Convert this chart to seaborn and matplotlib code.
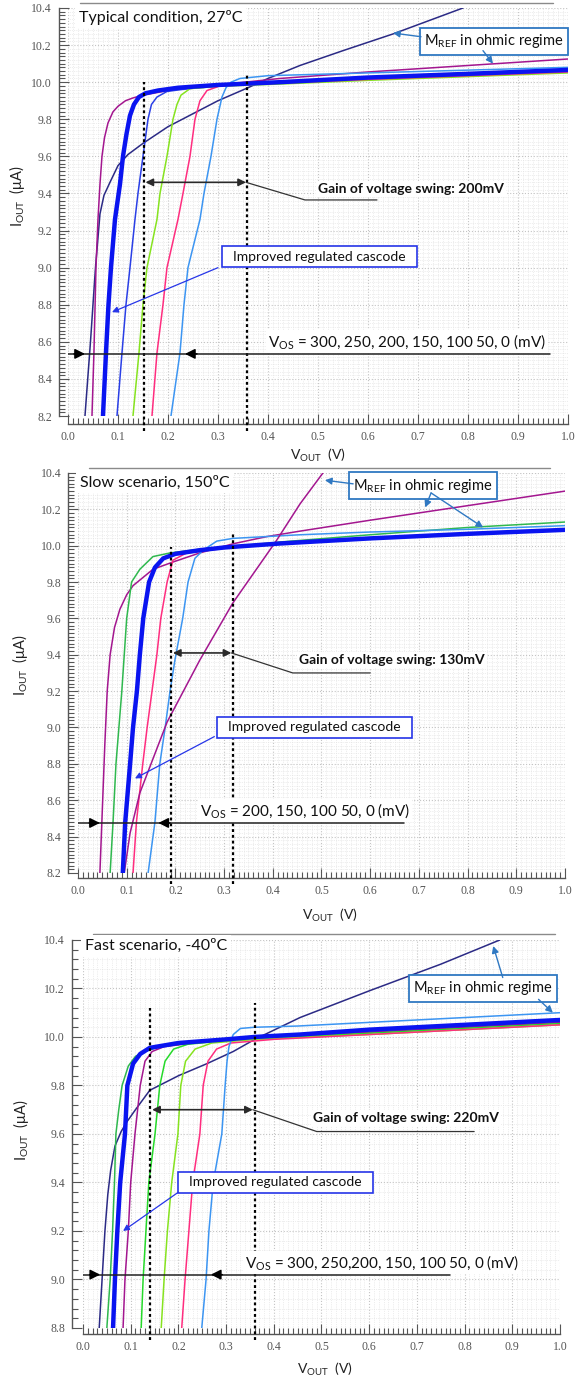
import matplotlib
matplotlib.use("Agg")
import matplotlib.pyplot as plt
import seaborn as sns
from matplotlib.ticker import MultipleLocator, FormatStrFormatter

# -------------------------------------------------------------
#  Colores de las curvas y cajas
# -------------------------------------------------------------
NAVY     = "#2b2a85"
PURPLE   = "#a3168f"
BLUE_T   = "#0a14f0"
BLUE     = "#2a3fe6"
LGREEN   = "#86e31f"
GREEN    = "#2fb84e"
GREEN2   = "#25d92a"
PINK     = "#ff2d7f"
LBLUE    = "#3c95f2"
BOX_BLUE = "#2f78c2"
CAS_BLUE = "#2635e8"

# -------------------------------------------------------------
#  Datos — Typical condition, 27ºC
# -------------------------------------------------------------
typ_navy_x   = [0.034, 0.045, 0.055, 0.064, 0.072, 0.084, 0.1, 0.12, 0.15, 0.2, 0.25, 0.3, 0.36, 0.4, 0.464, 0.55, 0.65, 0.79]
typ_navy_y   = [8.2, 8.6, 9.0, 9.29, 9.39, 9.46, 9.55, 9.61, 9.67, 9.76, 9.83, 9.9, 9.97, 10.02, 10.09, 10.17, 10.26, 10.4]
typ_purple_x = [0.048, 0.052, 0.056, 0.06, 0.064, 0.068, 0.073, 0.08, 0.09, 0.1, 0.115, 0.13, 0.15, 0.2, 0.3, 0.424, 0.6, 0.8, 1.0]
typ_purple_y = [8.2, 8.55, 9.0, 9.26, 9.45, 9.6, 9.7, 9.78, 9.84, 9.87, 9.9, 9.915, 9.93, 9.955, 9.985, 10.02, 10.055, 10.09, 10.125]
typ_thick_x  = [0.07, 0.076, 0.081, 0.086, 0.094, 0.104, 0.11, 0.117, 0.124, 0.132, 0.142, 0.155, 0.18, 0.22, 0.3, 0.424, 0.6, 0.8, 1.0]
typ_thick_y  = [8.2, 8.54, 8.8, 9.0, 9.26, 9.45, 9.6, 9.72, 9.82, 9.88, 9.92, 9.94, 9.955, 9.97, 9.985, 10.0, 10.025, 10.045, 10.066]
typ_blue_x   = [0.098, 0.108, 0.116, 0.124, 0.134, 0.14, 0.15, 0.16, 0.167, 0.178, 0.198, 0.24, 0.3, 0.424, 0.6, 0.8, 1.0]
typ_blue_y   = [8.2, 8.54, 8.8, 9.0, 9.26, 9.4, 9.6, 9.8, 9.88, 9.92, 9.95, 9.965, 9.978, 9.995, 10.02, 10.04, 10.06]
typ_lgreen_x = [0.13, 0.142, 0.15, 0.158, 0.178, 0.184, 0.198, 0.21, 0.218, 0.226, 0.244, 0.3, 0.424, 0.6, 0.8, 1.0]
typ_lgreen_y = [8.2, 8.54, 8.8, 9.0, 9.26, 9.4, 9.6, 9.8, 9.88, 9.93, 9.965, 9.978, 9.99, 10.01, 10.03, 10.05]
typ_pink_x   = [0.168, 0.178, 0.19, 0.198, 0.22, 0.23, 0.244, 0.254, 0.264, 0.278, 0.304, 0.424, 0.6, 0.8, 1.0]
typ_pink_y   = [8.2, 8.54, 8.8, 9.0, 9.26, 9.4, 9.6, 9.8, 9.9, 9.955, 9.98, 9.995, 10.015, 10.035, 10.055]
typ_lblue_x  = [0.206, 0.224, 0.232, 0.24, 0.264, 0.272, 0.286, 0.298, 0.308, 0.316, 0.326, 0.344, 0.4, 0.6, 0.8, 1.0]
typ_lblue_y  = [8.2, 8.54, 8.8, 9.0, 9.26, 9.4, 9.6, 9.8, 9.92, 9.97, 10.0, 10.02, 10.035, 10.05, 10.065, 10.08]

# -------------------------------------------------------------
#  Datos — Slow scenario, 150ºC
# -------------------------------------------------------------
slow_purple_x = [0.045, 0.049, 0.055, 0.06, 0.066, 0.075, 0.086, 0.1, 0.113, 0.154, 0.195, 0.25, 0.318, 0.388, 0.456, 0.6, 0.8, 1.0]
slow_purple_y = [8.2, 8.48, 8.9, 9.2, 9.4, 9.55, 9.65, 9.73, 9.78, 9.87, 9.91, 9.96, 10.01, 10.05, 10.08, 10.14, 10.22, 10.3]
slow_green_x  = [0.066, 0.072, 0.078, 0.09, 0.095, 0.1, 0.11, 0.127, 0.154, 0.189, 0.25, 0.318, 0.415, 0.6, 0.8, 1.0]
slow_green_y  = [8.2, 8.48, 8.8, 9.2, 9.4, 9.6, 9.8, 9.87, 9.94, 9.96, 9.98, 9.995, 10.02, 10.06, 10.1, 10.13]
slow_thick_x  = [0.092, 0.097, 0.107, 0.113, 0.121, 0.127, 0.134, 0.146, 0.158, 0.175, 0.2, 0.25, 0.3, 0.415, 0.6, 0.8, 1.0]
slow_thick_y  = [8.2, 8.48, 8.8, 9.0, 9.2, 9.4, 9.6, 9.8, 9.88, 9.93, 9.955, 9.975, 9.99, 10.012, 10.04, 10.065, 10.087]
slow_pink_x   = [0.113, 0.12, 0.133, 0.142, 0.152, 0.162, 0.17, 0.183, 0.195, 0.223, 0.3, 0.415, 0.6, 0.8, 1.0]
slow_pink_y   = [8.2, 8.48, 8.8, 9.0, 9.2, 9.4, 9.6, 9.8, 9.92, 9.96, 9.985, 10.01, 10.04, 10.065, 10.09]
slow_lblue_x  = [0.144, 0.158, 0.168, 0.179, 0.189, 0.199, 0.215, 0.226, 0.24, 0.257, 0.285, 0.318, 0.456, 0.6, 0.8, 1.0]
slow_lblue_y  = [8.2, 8.48, 8.8, 9.0, 9.2, 9.37, 9.6, 9.8, 9.93, 9.975, 10.025, 10.04, 10.06, 10.075, 10.09, 10.11]
slow_mref_x   = [0.095, 0.107, 0.127, 0.183, 0.25, 0.318, 0.408, 0.456, 0.503]
slow_mref_y   = [8.2, 8.42, 8.64, 9.03, 9.37, 9.685, 10.03, 10.23, 10.4]

# -------------------------------------------------------------
#  Datos — Fast scenario, -40ºC
# -------------------------------------------------------------
fast_navy_x   = [0.034, 0.04, 0.046, 0.052, 0.058, 0.067, 0.08, 0.092, 0.11, 0.14, 0.2, 0.26, 0.315, 0.36, 0.455, 0.6, 0.75, 0.874]
fast_navy_y   = [8.8, 9.0, 9.2, 9.35, 9.45, 9.55, 9.61, 9.65, 9.7, 9.78, 9.84, 9.89, 9.94, 9.99, 10.08, 10.19, 10.3, 10.4]
fast_green_x  = [0.05, 0.057, 0.062, 0.066, 0.069, 0.075, 0.082, 0.095, 0.11, 0.13, 0.16, 0.25, 0.36, 0.6, 0.8, 1.0]
fast_green_y  = [8.8, 9.0, 9.2, 9.4, 9.6, 9.7, 9.8, 9.88, 9.92, 9.94, 9.96, 9.98, 9.995, 10.02, 10.04, 10.06]
fast_thick_x  = [0.063, 0.067, 0.072, 0.078, 0.088, 0.093, 0.105, 0.12, 0.14, 0.2, 0.3, 0.36, 0.455, 0.6, 0.8, 1.0]
fast_thick_y  = [8.8, 9.0, 9.2, 9.4, 9.6, 9.8, 9.89, 9.93, 9.955, 9.975, 9.99, 10.0, 10.01, 10.03, 10.05, 10.07]
fast_purple_x = [0.084, 0.088, 0.095, 0.1, 0.109, 0.12, 0.13, 0.145, 0.17, 0.25, 0.36, 0.6, 0.8, 1.0]
fast_purple_y = [8.8, 9.0, 9.2, 9.4, 9.6, 9.8, 9.9, 9.94, 9.96, 9.98, 9.995, 10.02, 10.04, 10.06]
fast_green2_x = [0.122, 0.126, 0.132, 0.138, 0.151, 0.161, 0.172, 0.19, 0.22, 0.3, 0.6, 1.0]
fast_green2_y = [8.8, 9.0, 9.2, 9.4, 9.6, 9.8, 9.9, 9.95, 9.97, 9.985, 10.015, 10.055]
fast_lgreen_x = [0.164, 0.17, 0.177, 0.186, 0.199, 0.205, 0.215, 0.235, 0.27, 0.36, 0.6, 1.0]
fast_lgreen_y = [8.8, 9.0, 9.2, 9.4, 9.6, 9.8, 9.9, 9.95, 9.975, 9.99, 10.01, 10.05]
fast_pink_x   = [0.207, 0.214, 0.222, 0.23, 0.245, 0.252, 0.262, 0.28, 0.31, 0.4, 0.6, 1.0]
fast_pink_y   = [8.8, 9.0, 9.2, 9.4, 9.6, 9.8, 9.9, 9.95, 9.975, 9.99, 10.01, 10.05]
fast_lblue_x  = [0.249, 0.258, 0.264, 0.273, 0.291, 0.298, 0.302, 0.306, 0.315, 0.33, 0.36, 0.45, 0.6, 0.8, 1.0]
fast_lblue_y  = [8.8, 9.0, 9.2, 9.4, 9.6, 9.8, 9.9, 9.96, 10.01, 10.035, 10.04, 10.045, 10.06, 10.08, 10.1]

# Textos
X_LABEL   = r"V$_{\mathrm{OUT}}$  (V)"
Y_LABEL   = r"I$_{\mathrm{OUT}}$  ($\mathrm{\mu}$A)"
MREF_TXT  = r"M$_{\mathrm{REF}}$ in ohmic regime"
CAS_TXT   = "  Improved regulated cascode  "

# -------------------------------------------------------------
#  Estilo general
# -------------------------------------------------------------
sns.set_theme(style="white")
plt.rcParams["font.family"] = ["Liberation Serif", "DejaVu Serif"]
plt.rcParams["mathtext.fontset"] = "custom"
plt.rcParams["mathtext.rm"] = "Lato"
plt.rcParams["mathtext.it"] = "Lato:italic"
plt.rcParams["mathtext.bf"] = "Lato:bold"

SANS = ["Lato", "DejaVu Sans"]

fig = plt.figure(figsize=(5.82, 13.78), dpi=100)
ax1 = fig.add_axes([0.1168, 0.6981, 0.8591, 0.2961])
ax2 = fig.add_axes([0.1340, 0.3665, 0.8368, 0.2903])
ax3 = fig.add_axes([0.1426, 0.0363, 0.8196, 0.2816])


def style_axis(ax, ylim, yminor, left_off, bottom_off, ylab_xy, xlab_xy, top_line):
    ax.set_xlim(0, 1)
    ax.set_ylim(*ylim)
    ax.xaxis.set_major_locator(MultipleLocator(0.1))
    ax.xaxis.set_minor_locator(MultipleLocator(0.01))
    ax.yaxis.set_major_locator(MultipleLocator(0.2))
    ax.yaxis.set_minor_locator(MultipleLocator(yminor))
    ax.xaxis.set_major_formatter(FormatStrFormatter("%.1f"))
    ax.yaxis.set_major_formatter(FormatStrFormatter("%.1f"))
    ax.set_axisbelow(True)
    ax.grid(which="major", color="#c4c4c4", ls=":", lw=0.8)
    ax.grid(which="minor", color="#dedede", ls=":", lw=0.5)
    for s in ["top", "right"]:
        ax.spines[s].set_visible(False)
    ax.spines["left"].set_position(("outward", left_off))
    ax.spines["bottom"].set_position(("outward", bottom_off))
    for s in ["left", "bottom"]:
        ax.spines[s].set_color("#555555")
        ax.spines[s].set_linewidth(1.0)
    ax.tick_params(which="both", direction="in", colors="#555555", labelsize=8.5,
                   width=0.8, left=True, bottom=True, top=False, right=False)
    ax.tick_params(which="major", length=7, pad=5)
    ax.tick_params(which="minor", length=4)
    ax.set_xlabel(X_LABEL, fontsize=10, family=SANS, color="#222222")
    ax.set_ylabel(Y_LABEL, fontsize=10.5, family=SANS, color="#222222")
    ax.xaxis.set_label_coords(*xlab_xy)
    ax.yaxis.set_label_coords(*ylab_xy)
    ax.plot(top_line[:2], [top_line[2], top_line[2]], transform=ax.transAxes,
            color="#8a8a8a", lw=1.0, clip_on=False)


def draw_curves(ax, curves):
    for xs, ys, color, lw in curves:
        sns.lineplot(x=xs, y=ys, color=color, linewidth=lw, ax=ax,
                     estimator=None, sort=False, legend=False, zorder=3)


def add_title(ax, x, y, txt):
    ax.text(x, y, txt, fontsize=11.5, family=SANS, va="center", ha="left", color="#111111",
            zorder=6, bbox=dict(fc="white", ec="none", pad=2.5))


def add_vlines(ax, xs, y0, tops):
    for x, y1 in zip(xs, tops):
        ax.plot([x, x], [y0, y1], color="black", lw=1.6, ls=(0, (1.3, 1.3)),
                clip_on=False, zorder=4)


def add_swing(ax, x0, x1, y, xe, ye, xend, label, tx, ty):
    ax.annotate("", xy=(x0, y), xytext=(x1, y),
                arrowprops=dict(arrowstyle="<|-|>", color="#2a2a2a", lw=1.2,
                                mutation_scale=11, shrinkA=0, shrinkB=0), zorder=7)
    ax.plot([x1, xe, xend], [y, ye, ye], color="#333333", lw=0.9, zorder=7)
    ax.text(tx, ty, label, fontsize=10, fontweight="bold", family=SANS, ha="center",
            va="center", color="#111111", zorder=6, bbox=dict(fc="white", ec="none", pad=1.5))


def add_vos(ax, y, xend, tip_l, tip_r, label, tx, ty):
    ax.plot([0.0, xend], [y, y], color="#222222", lw=1.1, zorder=7)
    ax.annotate("", xy=(tip_l, y), xytext=(tip_l - 0.022, y),
                arrowprops=dict(arrowstyle="-|>", color="black", lw=1.1,
                                mutation_scale=15, shrinkA=0, shrinkB=0), zorder=7)
    ax.annotate("", xy=(tip_r, y), xytext=(tip_r + 0.024, y),
                arrowprops=dict(arrowstyle="-|>", color="black", lw=1.1,
                                mutation_scale=15, shrinkA=0, shrinkB=0), zorder=7)
    ax.text(tx, ty, label, fontsize=11, family=SANS, ha="left", va="center",
            color="#111111", zorder=6, bbox=dict(fc="white", ec="none", pad=1.5))


def add_cascode(ax, cx, cy, start, target):
    ax.text(cx, cy, CAS_TXT, fontsize=10, family=SANS, ha="center", va="center",
            color="#111111", zorder=8,
            bbox=dict(boxstyle="square,pad=0.3", fc="white", ec=CAS_BLUE, lw=1.2))
    ax.annotate("", xy=target, xytext=start,
                arrowprops=dict(arrowstyle="-|>", color=CAS_BLUE, lw=0.9,
                                mutation_scale=9, shrinkA=0, shrinkB=0), zorder=8)


def add_mref(ax, cx, cy, arrows):
    ax.text(cx, cy, MREF_TXT, fontsize=10.5, family=SANS, ha="center", va="center",
            color="#111111", zorder=8,
            bbox=dict(boxstyle="square,pad=0.3", fc="white", ec=BOX_BLUE, lw=1.3))
    for start, target in arrows:
        ax.annotate("", xy=target, xytext=start,
                    arrowprops=dict(arrowstyle="-|>", color=BOX_BLUE, lw=1.0,
                                    mutation_scale=10, shrinkA=0, shrinkB=0), zorder=8)


# -------------------------------------------------------------
#  Panel 1 — Typical condition, 27ºC
# -------------------------------------------------------------
style_axis(ax1, (8.2, 10.4), 0.02, 6.5, 5.5, (-0.082, 0.54), (0.5, -0.075), (0.024, 0.97, 1.012))
draw_curves(ax1, [
    (typ_navy_x, typ_navy_y, NAVY, 1.1),
    (typ_purple_x, typ_purple_y, PURPLE, 1.1),
    (typ_blue_x, typ_blue_y, BLUE, 1.1),
    (typ_lgreen_x, typ_lgreen_y, LGREEN, 1.1),
    (typ_pink_x, typ_pink_y, PINK, 1.1),
    (typ_lblue_x, typ_lblue_y, LBLUE, 1.1),
    (typ_thick_x, typ_thick_y, BLUE_T, 3.2),
])
add_title(ax1, 0.022, 10.35, "Typical condition, 27ºC")
add_vlines(ax1, [0.153, 0.358], 8.12, [10.0, 10.04])
add_swing(ax1, 0.155, 0.356, 9.46, 0.474, 9.365, 0.618,
          "Gain of voltage swing: 200mV", 0.686, 9.425)
add_cascode(ax1, 0.503, 9.06, (0.30, 9.0), (0.088, 8.76))
add_vos(ax1, 8.535, 0.965, 0.034, 0.234,
        r"V$_{\mathrm{OS}}$ = 300, 250, 200, 150, 100 50, 0 (mV)", 0.40, 8.6)
add_mref(ax1, 0.852, 10.22, [((0.706, 10.245), (0.65, 10.265)),
                             ((0.83, 10.17), (0.85, 10.1))])

# -------------------------------------------------------------
#  Panel 2 — Slow scenario, 150ºC
# -------------------------------------------------------------
style_axis(ax2, (8.2, 10.4), 0.02, 7.0, 3.6, (-0.099, 0.52), (0.517, -0.085), (0.023, 0.97, 1.0125))
draw_curves(ax2, [
    (slow_purple_x, slow_purple_y, PURPLE, 1.1),
    (slow_green_x, slow_green_y, GREEN, 1.1),
    (slow_pink_x, slow_pink_y, PINK, 1.1),
    (slow_lblue_x, slow_lblue_y, LBLUE, 1.1),
    (slow_mref_x, slow_mref_y, PURPLE, 1.1),
    (slow_thick_x, slow_thick_y, BLUE_T, 3.2),
])
add_title(ax2, 0.004, 10.345, "Slow scenario, 150ºC")
add_vlines(ax2, [0.191, 0.318], 8.14, [9.99, 10.07])
add_swing(ax2, 0.195, 0.315, 9.41, 0.441, 9.30, 0.60,
          "Gain of voltage swing: 130mV", 0.645, 9.37)
add_cascode(ax2, 0.485, 9.0, (0.28, 8.95), (0.117, 8.72))
add_vos(ax2, 8.475, 0.67, 0.045, 0.165,
        r"V$_{\mathrm{OS}}$ = 200, 150, 100 50, 0 (mV)", 0.25, 8.545)
add_mref(ax2, 0.708, 10.33, [((0.565, 10.34), (0.507, 10.36)),
                             ((0.725, 10.29), (0.713, 10.21)),
                             ((0.725, 10.29), (0.832, 10.10))])

# -------------------------------------------------------------
#  Panel 3 — Fast scenario, -40ºC
# -------------------------------------------------------------
style_axis(ax3, (8.8, 10.4), 0.04, 8.0, 4.3, (-0.109, 0.51), (0.507, -0.085), (0.021, 0.99, 1.015))
draw_curves(ax3, [
    (fast_navy_x, fast_navy_y, NAVY, 1.1),
    (fast_green_x, fast_green_y, GREEN, 1.1),
    (fast_purple_x, fast_purple_y, PURPLE, 1.1),
    (fast_green2_x, fast_green2_y, GREEN2, 1.1),
    (fast_lgreen_x, fast_lgreen_y, LGREEN, 1.1),
    (fast_pink_x, fast_pink_y, PINK, 1.1),
    (fast_lblue_x, fast_lblue_y, LBLUE, 1.1),
    (fast_thick_x, fast_thick_y, BLUE_T, 3.2),
])
add_title(ax3, 0.004, 10.375, "Fast scenario, -40ºC")
add_vlines(ax3, [0.14, 0.36], 8.75, [10.12, 10.14])
add_swing(ax3, 0.145, 0.356, 9.70, 0.49, 9.61, 0.82,
          "Gain of voltage swing: 220mV", 0.677, 9.665)
add_cascode(ax3, 0.404, 9.40, (0.20, 9.36), (0.084, 9.2))
add_vos(ax3, 9.02, 0.77, 0.036, 0.268,
        r"V$_{\mathrm{OS}}$ = 300, 250,200, 150, 100 50, 0 (mV)", 0.34, 9.07)
add_mref(ax3, 0.838, 10.20, [((0.88, 10.245), (0.86, 10.375)),
                             ((0.955, 10.155), (0.985, 10.10))])

plt.savefig("out.png", dpi=100)
plt.close()
